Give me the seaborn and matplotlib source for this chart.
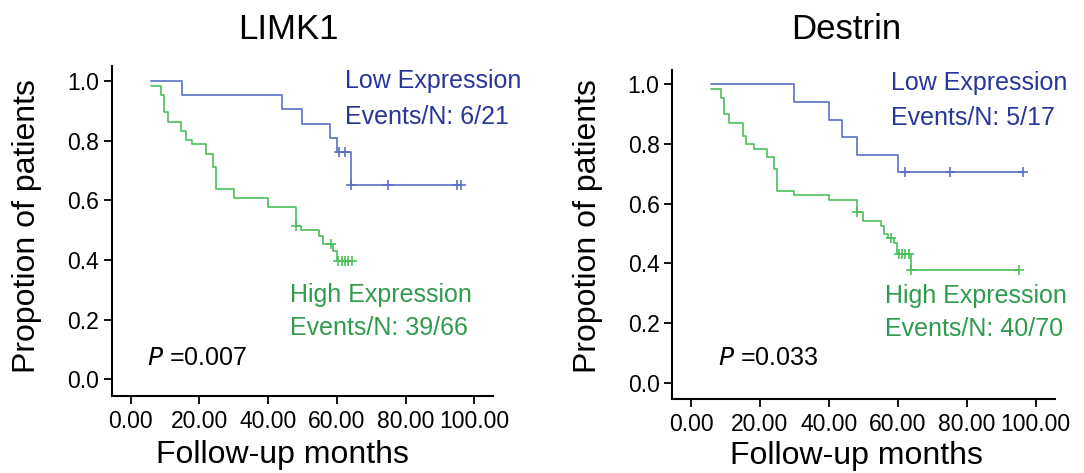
import matplotlib
matplotlib.use('Agg')
import matplotlib.pyplot as plt
import seaborn as sns

# 数据
# LIMK1 - low expression
limk1_low_t = [6, 15, 44, 50, 58, 60, 64, 96]
limk1_low_s = [1.0, 0.952, 0.905, 0.857, 0.810, 0.762, 0.653, 0.653]
limk1_low_ct = [60.5, 62.3, 64, 75, 95, 96]
limk1_low_cs = [0.762, 0.762, 0.653, 0.653, 0.653, 0.653]

# LIMK1 - high expression
limk1_high_t = [6, 8.8, 9.8, 11, 14.8, 16.1, 17.9, 21.9, 23.9, 25, 30.1, 40,
                48.1, 49.7, 54.9, 55.9, 58.8, 60.1, 64.8]
limk1_high_s = [0.985, 0.955, 0.895, 0.864, 0.834, 0.802, 0.788, 0.755, 0.713,
                0.637, 0.607, 0.577, 0.514, 0.501, 0.480, 0.453, 0.432, 0.398, 0.398]
limk1_high_ct = [48.1, 58.2, 60.4, 61.4, 62.4, 63.3, 64.3]
limk1_high_cs = [0.514, 0.453, 0.398, 0.398, 0.398, 0.398, 0.398]

# Destrin - low expression
destrin_low_t = [5.8, 29.8, 40, 43.9, 48.1, 60.1, 96.2]
destrin_low_s = [1.0, 0.941, 0.882, 0.824, 0.765, 0.706, 0.706]
destrin_low_ct = [62, 75, 96.2]
destrin_low_cs = [0.706, 0.706, 0.706]

# Destrin - high expression
destrin_high_t = [5.8, 8.7, 9.7, 10.9, 15, 16, 18.2, 22, 24.2, 24.9, 30, 40,
                  48.1, 49.8, 55, 55.9, 57.2, 58.8, 59.8, 63.9, 95.1]
destrin_high_s = [0.986, 0.955, 0.900, 0.871, 0.826, 0.800, 0.785, 0.757, 0.716,
                  0.642, 0.629, 0.614, 0.571, 0.543, 0.526, 0.500, 0.484, 0.467,
                  0.433, 0.378, 0.378]
destrin_high_ct = [48.1, 57.9, 60.4, 61.3, 62.2, 63.1, 63.9, 95.1]
destrin_high_cs = [0.571, 0.484, 0.433, 0.433, 0.433, 0.433, 0.378, 0.378]

titles = ['LIMK1', 'Destrin']
low_events = ['Events/N: 6/21', 'Events/N: 5/17']
high_events = ['Events/N: 39/66', 'Events/N: 40/70']
p_values = ['0.007', '0.033']

sns.set_style('ticks')
plt.rcParams['font.family'] = ['Liberation Sans', 'DejaVu Sans']
plt.rcParams['text.color'] = 'black'
plt.rcParams['axes.labelcolor'] = 'black'

low_line = '#5a70c6'
high_line = '#4cc05a'
low_text = '#26369a'
high_text = '#2f9c4c'

fig = plt.figure(figsize=(10.84, 4.73), dpi=100)
ax1 = fig.add_axes([0.103, 0.163, 0.352, 0.697])
ax2 = fig.add_axes([0.620, 0.156, 0.353, 0.697])

panels = [
    (ax1, limk1_low_t, limk1_low_s, limk1_low_ct, limk1_low_cs,
     limk1_high_t, limk1_high_s, limk1_high_ct, limk1_high_cs),
    (ax2, destrin_low_t, destrin_low_s, destrin_low_ct, destrin_low_cs,
     destrin_high_t, destrin_high_s, destrin_high_ct, destrin_high_cs),
]

# 文本位置 (数据坐标)
low_pos = [(62.4, 0.976, 0.858), (58.1, 0.983, 0.864)]
high_pos = [(46.3, 0.261, 0.149), (56.2, 0.269, 0.158)]
p_pos = [(4.7, 0.049), (7.7, 0.059)]
title_y = [1.084, 1.093]
title_x = [0.462, 0.454]
xlab_pos = [(0.447, -0.178), (0.483, -0.173)]
ylab_pos = [(-0.222, 0.515), (-0.220, 0.525)]

for i, (ax, lt, ls, lct, lcs, ht, hs, hct, hcs) in enumerate(panels):
    sns.lineplot(x=ht, y=hs, ax=ax, color=high_line, lw=1.2,
                 drawstyle='steps-post', sort=False)
    sns.lineplot(x=lt, y=ls, ax=ax, color=low_line, lw=1.2,
                 drawstyle='steps-post', sort=False)
    ax.plot(hct, hcs, ls='none', marker='+', ms=6.5, mew=1.2, color=high_line)
    ax.plot(lct, lcs, ls='none', marker='+', ms=6.5, mew=1.2, color=low_line)

    ax.set_xlim(-5.5, 105.5)
    ax.set_ylim(-0.055, 1.05)
    ax.set_xticks([0, 20, 40, 60, 80, 100])
    ax.set_xticklabels([f'{v:.2f}' for v in [0, 20, 40, 60, 80, 100]])
    ax.set_yticks([0, 0.2, 0.4, 0.6, 0.8, 1.0])
    ax.set_yticklabels([f'{v:.1f}' for v in [0, 0.2, 0.4, 0.6, 0.8, 1.0]])
    ax.tick_params(axis='both', labelsize=16.5, length=6, width=1.3,
                   colors='black')
    ax.tick_params(axis='x', pad=4)
    ax.tick_params(axis='y', pad=3)
    sns.despine(ax=ax)
    for sp in ['left', 'bottom']:
        ax.spines[sp].set_linewidth(1.5)
        ax.spines[sp].set_color('black')

    ax.set_xlabel('Follow-up months', fontsize=23, va='center')
    ax.xaxis.set_label_coords(*xlab_pos[i])
    ax.set_ylabel('Propotion of patients', fontsize=23, va='center')
    ax.yaxis.set_label_coords(*ylab_pos[i])
    ax.text(title_x[i], title_y[i], titles[i], transform=ax.transAxes,
            ha='center', va='baseline', fontsize=25)

    x, y1, y2 = low_pos[i]
    ax.text(x, y1, 'Low Expression', color=low_text, fontsize=18, va='baseline')
    ax.text(x, y2, low_events[i], color=low_text, fontsize=18, va='baseline')
    x, y1, y2 = high_pos[i]
    ax.text(x, y1, 'High Expression', color=high_text, fontsize=18, va='baseline')
    ax.text(x, y2, high_events[i], color=high_text, fontsize=18, va='baseline')
    x, y = p_pos[i]
    ax.text(x, y, r'$\it{P}$ =' + p_values[i], fontsize=18, va='baseline')

fig.savefig('out.png', dpi=100)
